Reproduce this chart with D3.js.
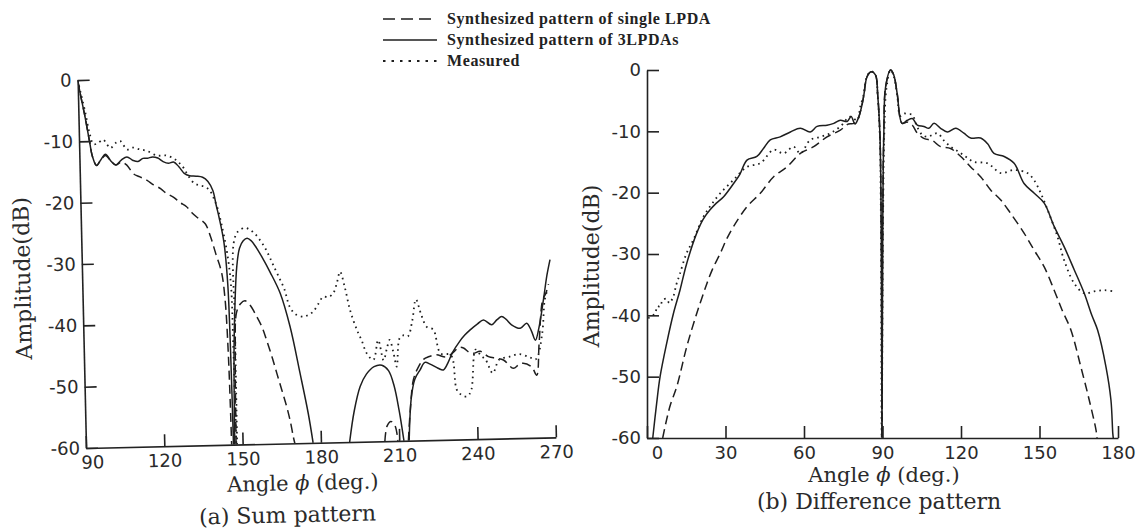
<!DOCTYPE html>
<html>
<head>
<meta charset="utf-8">
<script src="https://cdn.jsdelivr.net/npm/d3@7"></script>
<style>
body { margin: 0; background: #fff; }
svg { display: block; }
.axis path, .axis line { stroke: #222; stroke-width: 1.6; }
.axis text { font-family: "DejaVu Sans"; font-size: 18px; fill: #2a2a2a; }
.title { font-family: "DejaVu Serif"; fill: #2a2a2a; }
.legend text { font-family: "Liberation Serif"; font-weight: bold; font-size: 16px; letter-spacing: 0.6px; fill: #222; }
.curve { fill: none; stroke: #1e1e1e; }
</style>
</head>
<body>
<script>
//tick labels
var sumXTicks = [90, 120, 150, 180, 210, 240, 270];
var diffXTicks = [0, 30, 60, 90, 120, 150, 180];
var dbTicks = [0, -10, -20, -30, -40, -50, -60];
var legendLabels = ["Synthesized pattern of single LPDA", "Synthesized pattern of 3LPDAs", "Measured"];

//(a) sum pattern, [angle, dB], null = gap
var sumSolid = [[90,0],[91,-2.5],[92.5,-6],[94,-10],[95,-12.5],[96.5,-14],[98,-13.2],[100,-12.2],[102,-13.3],[103.8,-14],[106,-13.2],[108.2,-12.7],[110.5,-13.3],[112.4,-13.5],[114.3,-13],[116,-13],[118,-12.8],[120,-13],[122,-13.6],[124,-13.9],[126,-13.7],[128,-14.5],[130,-15.6],[132,-16],[134.5,-16.1],[137,-16.3],[139,-17],[140.8,-18.5],[142,-21],[143,-23],[144.6,-27],[145.7,-33.8],[146.2,-45],[146.5,-60],
  null,[147,-60],[147.5,-45],[148.3,-37],[149.3,-31],[150.5,-28],[152,-26.8],[153.5,-26.4],[155,-26.8],[157,-28],[159,-29.5],[162,-32],[165.7,-35.5],[169.2,-41],[172.6,-48.6],[175.4,-55.2],[177,-60],
  null,[191,-60],[193,-55],[195.5,-51],[198,-49],[201,-47.8],[204,-47.6],[206.5,-48.5],[208.5,-51],[210.2,-55],[211.8,-60],
  null,[213.8,-60],[215,-53],[216.5,-50],[218.6,-48.5],[220.5,-47.3],[222.5,-47.6],[225.5,-48.3],[227.5,-48.6],[229.5,-47.3],[231,-45.9],[234,-44],[236,-43],[238,-42.2],[241,-41.2],[243.3,-40.6],[246.4,-41.4],[248.5,-40.6],[250.3,-40.1],[252,-40.6],[254,-41.5],[257.3,-42.1],[259.8,-41.3],[261.5,-42.5],[263,-44.1],[264.5,-42],[266.4,-37.6],[268,-33.5],[269.3,-31]];

var sumDash = [[90,0],[91,-2.5],[92.5,-6],[94,-10],[95,-12.5],[96.5,-14],[98,-13.2],[100,-12.4],[102,-13.3],[104,-14],[106,-13.5],[108,-14],[110.6,-15.5],[113,-16],[115.7,-16.6],[118,-17.3],[120.8,-18],[123,-18.8],[125.9,-19.5],[128,-20.3],[130.5,-21],[132.5,-22],[134.5,-22.8],[137.6,-23.9],[139.5,-26],[141.5,-29],[143.4,-31.8],[144.5,-36],[145.3,-45],[145.8,-60],
  null,[147.5,-60],[148,-45],[148.8,-38.5],[150.5,-37],[152.2,-36.6],[154,-37.3],[156.5,-39.2],[158.5,-41],[160.1,-43.1],[162,-45.8],[163.7,-48.5],[165.5,-51.3],[167.2,-54],[168.5,-56.5],[169.5,-59],[170,-60],
  null,[204.5,-60],[205.5,-57.5],[207,-56.8],[208.5,-57.5],[209.5,-60],
  null,[213.5,-60],[214.5,-55],[216,-50],[218,-48],[220,-46.8],[221.9,-46.4],[225,-46.1],[228.8,-46.5],[231.9,-45.6],[233.5,-45],[235.4,-45.1],[237.5,-45.8],[239.2,-46],[241.8,-45.7],[244.9,-46.6],[248,-46.9],[250.6,-47.2],[254.3,-48.6],[256.5,-48],[258.1,-47.8],[261.3,-48.4],[263.2,-49.8],[264.4,-44.6],[266.1,-37.6],[267.4,-36.5],[268.5,-35]];

var sumMeas = [[90,0],[91,-2],[92.5,-5],[94,-8.5],[95.5,-10.5],[97,-10.4],[99.3,-9.8],[100.5,-10.5],[102,-11.2],[104,-10.4],[105.8,-10.1],[108.3,-11.5],[110.5,-11.2],[113,-11.5],[115.9,-11.8],[119.7,-12.6],[123,-12.6],[126,-13.1],[128,-13.8],[129.8,-14.7],[131.5,-16],[133.6,-17.2],[135.5,-17.6],[137.4,-17.8],[139.5,-18.4],[141.2,-19.9],[142.5,-21.5],[143.8,-24],[145.6,-28.3],[146.9,-33.8],[147.3,-45],[147.6,-60],
  null,[147.9,-60],[148.1,-40],[148.3,-27.2],[150,-25.3],[152.8,-24.7],[154.5,-25],[156.3,-25.6],[158,-26.5],[160,-27.8],[161.8,-29.4],[163.5,-31.1],[165.8,-33.3],[167.3,-34.8],[169.3,-37.8],[171.5,-39],[174.4,-39.4],[176,-39.2],[178.2,-38.6],[180,-37.5],[182.2,-36.2],[184,-36.3],[186,-35.7],[187.5,-34],[188.8,-32.2],[190.5,-34.8],[192.3,-38.5],[194.8,-41.8],[196.5,-43.5],[198.3,-45.6],[200.8,-46.7],[202.8,-43.5],[204.7,-46.8],[206,-45],[207.2,-43.5],[208.5,-45.5],[209.7,-47.9],[211,-43.3],[212.5,-42.8],[214.2,-43],[216,-40.5],[217.6,-37],[219.5,-39.5],[221.5,-41.5],[224,-42],[226.6,-45.9],[230.5,-46.2],[232.5,-51.9],[234.5,-52.8],[236.4,-53],[238,-52],[240,-45.4],[242,-46.4],[243.8,-47.1],[246.4,-49.3],[249,-47.1],[252.8,-46.7],[256.6,-46.3],[260.4,-46.8],[263,-47.2],[265.6,-43.2],[266.9,-37.6],[268,-36]];

//(b) difference pattern
var diffSolid = [[2.2,-60],[3.7,-54.3],[5,-50],[7.5,-44.6],[10.1,-39.7],[12.6,-35.9],[15.2,-31.5],[19,-26.6],[21.5,-24.3],[24.1,-22.8],[26.5,-21.7],[29.2,-20.7],[33.1,-18.5],[35.5,-17],[38.2,-14.7],[42,-14.1],[44.5,-12.8],[47.1,-11.4],[50.9,-10.9],[54.8,-10.1],[58.6,-9.5],[62.4,-10.1],[65,-9.2],[68.8,-9],[71.4,-8.7],[73.9,-8.2],[76.5,-8.4],[78,-7.6],[79.5,-8.8],[80.8,-7.8],[82,-6],[82.8,-4.3],[84.1,-1.1],[85.7,-0.3],[87.3,-0.8],[88.2,-4.3],[89,-10.3],[89.5,-25],[89.8,-60],
  [90.1,-25],[90.5,-10.3],[91.2,-2.7],[93.1,0],[94.3,-0.8],[95.6,-3.8],[97.5,-8.7],[99.5,-8.2],[101.4,-7.9],[103.3,-9],[105.8,-9.2],[107.7,-9.5],[109.7,-8.7],[112.2,-9.5],[114.8,-10.1],[118,-9.5],[121.1,-10.3],[123.7,-11.1],[127.5,-11.1],[130.1,-12],[132.6,-13.6],[136.5,-14.1],[140.3,-15.2],[144.1,-18.5],[148,-20.1],[151.8,-21.7],[155.6,-25.5],[159.4,-28.8],[163.3,-32.6],[167.1,-36.4],[170,-40],[172.2,-42.4],[175.4,-48.4],[177.3,-53.8],[178,-59.2],[178.2,-60]];

var diffDash = [[6,-60],[7.5,-57],[9,-54.5],[11.4,-51.6],[15.2,-45.1],[19,-39.7],[21.6,-36.4],[22.9,-34.8],[25,-32.5],[28,-29.9],[30.5,-27.5],[33.1,-25.5],[38.2,-22.3],[43.3,-20.1],[48.4,-17.4],[53.5,-15.8],[58.6,-13.6],[63.7,-12.5],[68.8,-10.9],[73.9,-9.8],[77,-8.8],[79,-8.7],[80.8,-7.8],[82,-6],[82.8,-4.3],[84.1,-1.1],[85.7,-0.3],[87.3,-0.8],[88.2,-4.3],[89,-10.3],[89.5,-25],[89.8,-60],
  [90.1,-25],[90.5,-10.3],[91.2,-2.7],[93.1,0],[94.3,-0.8],[95.6,-3.8],[97.5,-8.7],[99.5,-8.5],[101.4,-9],[103.3,-10.3],[106,-11.2],[109,-11.5],[112.2,-12.5],[116,-12.8],[119.9,-14.1],[123.7,-15.8],[127.5,-17.4],[131.4,-19.6],[135.2,-21.2],[139,-23.4],[144.1,-26.6],[148,-29.4],[151.8,-32.1],[155.6,-35.9],[158.5,-39],[162,-42.4],[165.8,-48.4],[169,-53.8],[171.6,-58.7],[172,-60]];

var diffMeas = [[0.5,-40.5],[2,-40],[3,-39.8],[4,-38.5],[5,-38.6],[6,-37.5],[7.5,-37.3],[8.5,-38],[10,-37],[11.2,-35],[12.6,-33.2],[15,-30],[17.7,-27.7],[21.6,-23.9],[24.5,-22],[28,-20.1],[33.1,-17.9],[38.2,-15.8],[43.3,-15.2],[48.4,-13],[52.2,-13.6],[56,-12.5],[58.6,-13.6],[62.4,-11.4],[66.3,-10.9],[70.1,-10.3],[73.9,-9.2],[77.7,-7.6],[80.3,-8.2],[81.5,-6],[82.8,-4],[84.1,-1],[85.7,-0.2],[87.3,-0.8],[88.2,-4.5],[89,-11],[89.4,-25],[89.7,-60],
  [90.2,-25],[90.7,-10],[91.5,-3],[93.1,0],[94.3,-1],[95.6,-4],[96.8,-7.5],[98.2,-7.1],[100,-7.2],[101.4,-7.3],[103,-9],[105,-10.5],[107.1,-10.9],[109,-10.6],[111,-10.3],[113.5,-11.5],[116,-12.5],[119,-13.3],[122,-14.2],[125,-15],[130.1,-15.2],[135.2,-16.8],[140.3,-16.3],[145.4,-16.8],[148,-18],[150.5,-20.1],[153.1,-22.8],[156.9,-27.2],[159.4,-31],[163.3,-34.8],[167.1,-36.4],[170.9,-36.1],[174.8,-35.9],[178.6,-36.1]];

var width = 1144,
    height = 531;

//line looks
var lineStyles = {
    solid: { w: 1.5, dash: null, key: null },
    dash:  { w: 1.5, dash: "9,5", key: "12,6" },
    dot:   { w: 1.8, dash: "1.6,4", key: "2.5,6" }
};

var svg = d3.select("body")
    .append("svg")
    .attr("width", width)
    .attr("height", height);

//legend at the top
var legendRows = [
    { label: legendLabels[0], style: "dash", y: 19 },
    { label: legendLabels[1], style: "solid", y: 40 },
    { label: legendLabels[2], style: "dot", y: 61 }
];
var legend = svg.append("g").attr("class", "legend");
legendRows.forEach(function(r){
    legend.append("line")
        .attr("class", "curve")
        .attr("x1", 383).attr("x2", 437)
        .attr("y1", r.y).attr("y2", r.y)
        .attr("stroke-width", lineStyles[r.style].w)
        .attr("stroke-dasharray", lineStyles[r.style].key);
    legend.append("text")
        .attr("x", 447)
        .attr("y", r.y + 5)
        .text(r.label);
});

drawPanel({
    id: "a",
    domain: [90, 270], ticks: sumXTicks,
    x0: 86, x1: 556, yBottom: 448, yTop: 80,
    rotate: -1.3, firstDx: 6,
    series: [[sumDash, "dash"], [sumSolid, "solid"], [sumMeas, "dot"]],
    yTitle: [34, 277], xTitle: [302, 495], caption: [286, 527],
    captionText: "(a) Sum pattern"
});

drawPanel({
    id: "b",
    domain: [0, 180], ticks: diffXTicks,
    x0: 647, x1: 1118, yBottom: 438, yTop: 70,
    rotate: 0, firstDx: 10,
    series: [[diffDash, "dash"], [diffSolid, "solid"], [diffMeas, "dot"]],
    yTitle: [599, 266], xTitle: [884, 482], caption: [879, 509],
    captionText: "(b) Difference pattern"
});

function drawPanel(p){
    var g = svg.append("g")
        .attr("transform", "rotate(" + p.rotate + " " + p.x0 + " " + p.yBottom + ")");

    var x = d3.scaleLinear().domain(p.domain).range([p.x0, p.x1]);
    var y = d3.scaleLinear().domain([-60, 0]).range([p.yBottom, p.yTop]);

    //keep curves inside the frame
    g.append("clipPath")
        .attr("id", "clip-" + p.id)
        .append("rect")
        .attr("x", p.x0).attr("y", p.yTop - 10)
        .attr("width", p.x1 - p.x0 + 4)
        .attr("height", p.yBottom - p.yTop + 10);

    var line = d3.line()
        .defined(function(d){ return d != null; })
        .x(function(d){ return x(d[0]); })
        .y(function(d){ return y(d[1]); })
        .curve(d3.curveCatmullRom.alpha(0.5));

    g.append("g")
        .attr("clip-path", "url(#clip-" + p.id + ")")
        .selectAll("path")
        .data(p.series)
        .enter()
        .append("path")
        .attr("class", "curve")
        .attr("d", function(s){ return line(s[0]); })
        .attr("stroke-width", function(s){ return lineStyles[s[1]].w; })
        .attr("stroke-dasharray", function(s){ return lineStyles[s[1]].dash; });

    //axes, ticks point inward
    var xAxis = d3.axisBottom(x)
        .tickValues(p.ticks)
        .tickFormat(String)
        .tickSize(-12)
        .tickSizeOuter(0)
        .tickPadding(8);
    var gx = g.append("g")
        .attr("class", "axis")
        .attr("transform", "translate(0," + p.yBottom + ")")
        .call(xAxis);
    gx.selectAll(".tick text").filter(function(d, i){ return i === 0; })
        .attr("dx", p.firstDx);

    var yAxis = d3.axisLeft(y)
        .tickValues(dbTicks)
        .tickFormat(String)
        .tickSize(-12)
        .tickSizeOuter(0)
        .tickPadding(6);
    g.append("g")
        .attr("class", "axis")
        .attr("transform", "translate(" + p.x0 + ",0)")
        .call(yAxis);

    //titles
    g.append("text")
        .attr("class", "title")
        .attr("font-size", 22)
        .attr("text-anchor", "middle")
        .attr("transform", "translate(" + p.yTitle[0] + "," + p.yTitle[1] + ") rotate(-90)")
        .text("Amplitude(dB)");

    var xt = g.append("text")
        .attr("class", "title")
        .attr("font-size", 21)
        .attr("text-anchor", "middle")
        .attr("x", p.xTitle[0])
        .attr("y", p.xTitle[1]);
    xt.append("tspan").text("Angle ");
    xt.append("tspan").attr("font-style", "italic").text("\u03D5");
    xt.append("tspan").text(" (deg.)");

    g.append("text")
        .attr("class", "title")
        .attr("font-size", 22)
        .attr("text-anchor", "middle")
        .attr("x", p.caption[0])
        .attr("y", p.caption[1])
        .text(p.captionText);
};
</script>
</body>
</html>
